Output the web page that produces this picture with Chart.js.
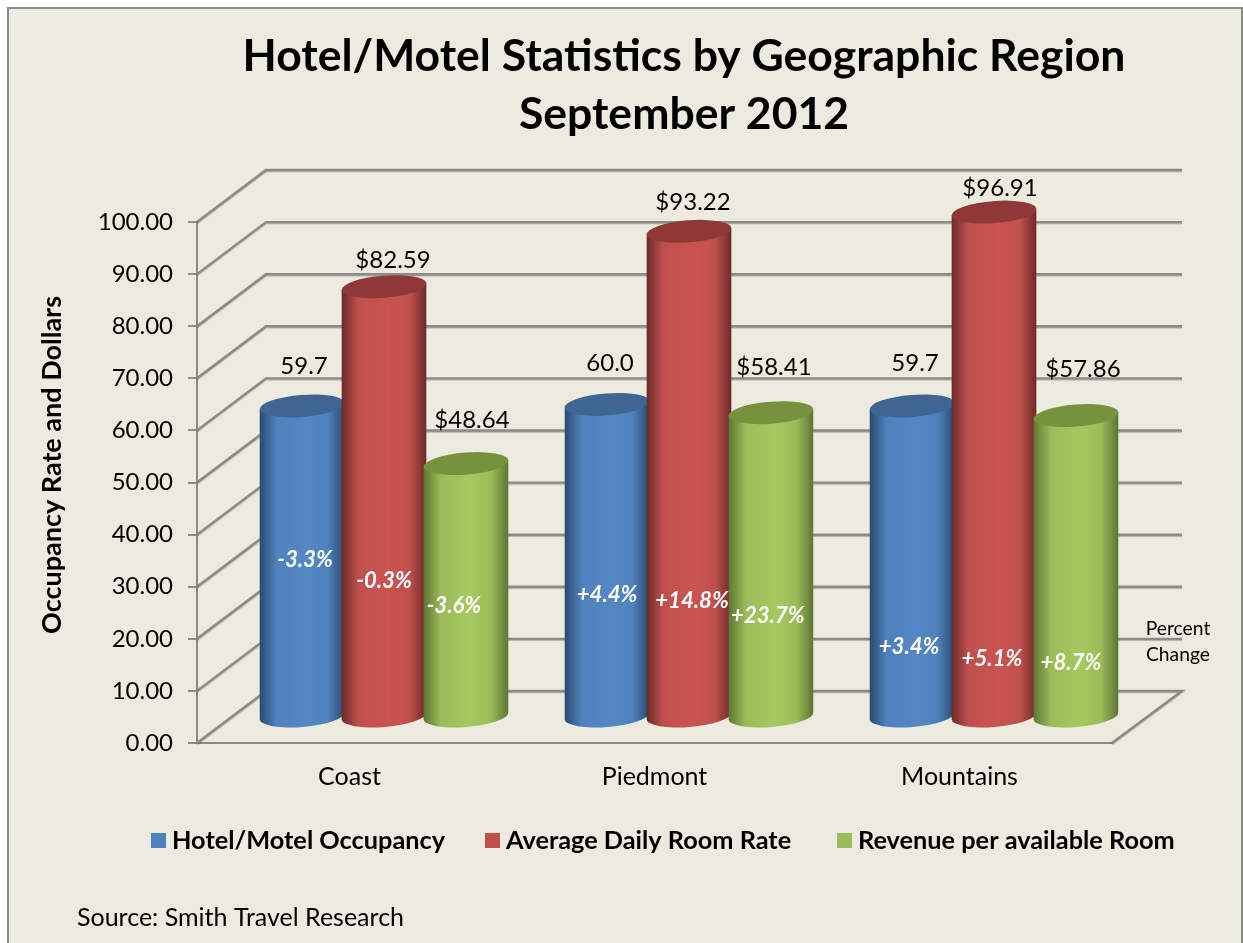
<!DOCTYPE html>
<html>
<head>
<meta charset="utf-8">
<title>Hotel/Motel Statistics by Geographic Region</title>
<script src="https://cdn.jsdelivr.net/npm/chart.js@4"></script>
<style>
  html, body { margin: 0; padding: 0; background: #fff; }
  #wrap { width: 1243px; height: 943px; }
</style>
</head>
<body>
<div id="wrap"><canvas id="chart" width="1243" height="943"></canvas></div>
<script>
// data
const regions = ['Coast', 'Piedmont', 'Mountains'];
const occupancy = [59.7, 60.0, 59.7];
const roomRate = [82.59, 93.22, 96.91];
const revenue = [48.64, 58.41, 57.86];
const occupancyChange = ['-3.3%', '+4.4%', '+3.4%'];
const roomRateChange = ['-0.3%', '+14.8%', '+5.1%'];
const revenueChange = ['-3.6%', '+23.7%', '+8.7%'];
const seriesNames = ['Hotel/Motel Occupancy', 'Average Daily Room Rate', 'Revenue per available Room'];
const titleLines = ['Hotel/Motel Statistics by Geographic Region', 'September 2012'];

// hand placed labels in the original, one row per series, [dx, dy] from the bar
const topLabelNudge = [
  [[2, -40], [3, -41], [3, -43]],
  [[9, -26], [4, -29], [6, -24]],
  [[6, -43], [3, -45], [7, -46]]
];
const changeLabelNudge = [
  [[3, -156], [0, -121], [-3, -69]],
  [[0, -135], [3, -115], [-2, -57]],
  [[-12, -110], [-3, -100], [-5, -53]]
];

const FONT = 'Lato, Carlito, Calibri, sans-serif';
const GRID = '#8a8a8a';
const BG = '#edebe0';
const depthX = 69, depthY = -52;   // floor depth of the 3d box
const barColors = [
  { edge: '#2a4a70', mid: '#5587c6', top: '#3f6592', plain: '#4f81bd' },
  { edge: '#6c2a28', mid: '#cb5350', top: '#8e3937', plain: '#c0504d' },
  { edge: '#5c7632', mid: '#a5c95f', top: '#76923c', plain: '#9bbb59' }
];

function text(ctx, str, x, y, font, color, align) {
  ctx.font = font;
  ctx.fillStyle = color;
  ctx.textAlign = align || 'center';
  ctx.textBaseline = 'middle';
  ctx.fillText(str, x, y);
}

function drawCylinder(ctx, el, colors) {
  const rx = (el.width + 3) / 2, ry = 11, rot = -0.08;
  const cx = el.x + depthX / 2;
  const topY = el.y + depthY / 2;
  const baseY = el.base + depthY / 2;
  const dx = rx * Math.cos(rot), dy = rx * Math.sin(rot);

  const grad = ctx.createLinearGradient(cx - rx, 0, cx + rx, 0);
  grad.addColorStop(0, colors.edge);
  grad.addColorStop(0.2, colors.plain);
  grad.addColorStop(0.55, colors.mid);
  grad.addColorStop(0.8, colors.plain);
  grad.addColorStop(1, colors.edge);

  ctx.beginPath();
  ctx.moveTo(cx - dx, topY - dy);
  ctx.lineTo(cx - dx, baseY - dy);
  ctx.ellipse(cx, baseY, rx, ry, rot, Math.PI, 0, true);
  ctx.lineTo(cx + dx, topY + dy);
  ctx.closePath();
  ctx.fillStyle = grad;
  ctx.fill();

  ctx.beginPath();
  ctx.ellipse(cx, topY, rx, ry, rot, 0, Math.PI * 2);
  ctx.fillStyle = colors.top;
  ctx.fill();
}

const box3d = {
  id: 'box3d',
  beforeDraw(chart) {
    const ctx = chart.ctx;
    ctx.save();
    ctx.fillStyle = BG;
    ctx.fillRect(8, 8, 1234, 935);
    ctx.strokeStyle = GRID;
    ctx.lineWidth = 2;
    ctx.beginPath();
    ctx.moveTo(8, 943);
    ctx.lineTo(8, 8);
    ctx.lineTo(1242, 8);
    ctx.lineTo(1242, 943);
    ctx.stroke();
    ctx.restore();
  },
  beforeDatasetsDraw(chart) {
    const ctx = chart.ctx, y = chart.scales.y, area = chart.chartArea;
    ctx.save();
    ctx.strokeStyle = GRID;
    ctx.lineWidth = 2.4;
    ctx.shadowColor = 'rgba(0,0,0,0.25)';
    ctx.shadowOffsetY = 1;
    ctx.shadowBlur = 1;
    y.ticks.forEach(t => {
      const py = y.getPixelForValue(t.value);
      ctx.beginPath();
      ctx.moveTo(area.left, py);
      ctx.lineTo(area.left + depthX, py + depthY);
      ctx.lineTo(area.right + depthX + 1, py + depthY);
      if (t.value === 0) ctx.lineTo(area.right, py);
      ctx.stroke();
    });
    ctx.restore();
  },
  afterDatasetsDraw(chart) {
    const ctx = chart.ctx;
    ctx.save();
    regions.forEach((r, i) => {
      chart.data.datasets.forEach((ds, d) => {
        drawCylinder(ctx, chart.getDatasetMeta(d).data[i], barColors[d]);
      });
    });
    // value labels and percent change labels
    chart.data.datasets.forEach((ds, d) => {
      chart.getDatasetMeta(d).data.forEach((el, i) => {
        const cx = el.x + depthX / 2;
        const label = d === 0 ? ds.data[i].toFixed(1) : '$' + ds.data[i].toFixed(2);
        const n = topLabelNudge[d][i];
        text(ctx, label, cx + n[0], el.y + depthY / 2 + n[1], '24px ' + FONT, '#000');
        const c = changeLabelNudge[d][i];
        text(ctx, ds.changes[i], cx + c[0], el.base + depthY / 2 + c[1], 'italic bold 22.2px ' + FONT, '#fff');
      });
    });
    // title, axis title, side note, legend and source
    titleLines.forEach((line, i) => {
      text(ctx, line, 684, 57 + i * 58, 'bold 44.5px ' + FONT, '#000');
    });
    ctx.save();
    ctx.translate(52, 465);
    ctx.rotate(-Math.PI / 2);
    text(ctx, 'Occupancy Rate and Dollars', 0, 0, 'bold 27px ' + FONT, '#000');
    ctx.restore();
    text(ctx, 'Percent', 1178, 629, '19.3px ' + FONT, '#000');
    text(ctx, 'Change', 1178, 655, '19.3px ' + FONT, '#000');
    const legendX = [151, 485, 837];
    seriesNames.forEach((name, i) => {
      ctx.fillStyle = barColors[i].plain;
      ctx.fillRect(legendX[i], 833, 15, 15);
      text(ctx, name, legendX[i] + 21, 841, 'bold 25.3px ' + FONT, '#000', 'left');
    });
    text(ctx, 'Source: Smith Travel Research', 77, 918, '25px ' + FONT, '#000', 'left');
    ctx.restore();
  }
};

new Chart(document.getElementById('chart'), {
  type: 'bar',
  data: {
    labels: regions,
    datasets: [
      { label: seriesNames[0], data: occupancy, changes: occupancyChange, backgroundColor: 'transparent' },
      { label: seriesNames[1], data: roomRate, changes: roomRateChange, backgroundColor: 'transparent' },
      { label: seriesNames[2], data: revenue, changes: revenueChange, backgroundColor: 'transparent' }
    ]
  },
  options: {
    responsive: false,
    animation: false,
    layout: { padding: { left: 97, right: 131, top: 222, bottom: 150 } },
    datasets: { bar: { barPercentage: 1, categoryPercentage: 0.806 } },
    plugins: { legend: { display: false }, title: { display: false }, tooltip: { enabled: false } },
    scales: {
      x: {
        afterFit(scale) { scale.height = 50; },
        grid: { drawOnChartArea: false, drawTicks: false },
        border: { color: GRID, width: 2 },
        ticks: { color: '#000', padding: 19, font: { family: FONT, size: 25 } }
      },
      y: {
        min: 0,
        max: 100,
        afterFit(scale) { scale.width = 100; },
        grid: { drawOnChartArea: false, color: GRID, lineWidth: 2, tickLength: 9 },
        border: { color: GRID, width: 2 },
        ticks: {
          stepSize: 10,
          color: '#000',
          padding: 15,
          font: { family: FONT, size: 24 },
          callback: v => v.toFixed(2)
        }
      }
    }
  },
  plugins: [box3d]
});
</script>
</body>
</html>
